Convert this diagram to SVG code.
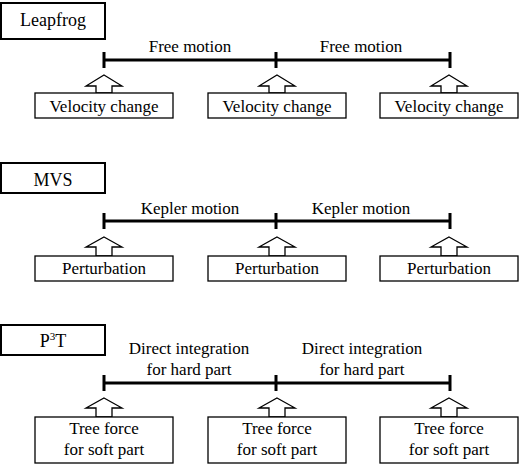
<svg xmlns="http://www.w3.org/2000/svg" width="520" height="469" viewBox="0 0 520 469">
<style>
text{fill:#000;text-anchor:middle}
.lbl{font-size:17px}
.hdr{font-size:18px}
.hbox{fill:#fff;stroke:#000;stroke-width:2}
.box{fill:#fff;stroke:#000;stroke-width:1.3}
.line{stroke:#000;stroke-width:3;fill:none}
.arr{fill:#fff;stroke:#000;stroke-width:1.3;stroke-linejoin:miter}
</style>
<rect width="520" height="469" fill="#fff"/>
<g font-family="Liberation Serif, DejaVu Serif, serif">
<g id="connectors">
<path class="line" d="M104 60H450M104 52V68M276 52V68M450 52V68"/>
<path class="line" d="M104 221H450M104 213V229M276 213V229M450 213V229"/>
<path class="line" d="M104 383H450M104 375V391M276 375V391M450 375V391"/>
<path class="arr" d="M104 75L122 86H112V93H96V86H86Z"/>
<path class="arr" d="M277 75L295 86H285V93H269V86H259Z"/>
<path class="arr" d="M449 75L467 86H457V93H441V86H431Z"/>
<path class="arr" d="M104 237L122 247H112V256H96V247H86Z"/>
<path class="arr" d="M277 237L295 247H285V256H269V247H259Z"/>
<path class="arr" d="M449 237L467 247H457V256H441V247H431Z"/>
<path class="arr" d="M104 398L122 408H112V417H96V408H86Z"/>
<path class="arr" d="M277 398L295 408H285V417H269V408H259Z"/>
<path class="arr" d="M449 398L467 408H457V417H441V408H431Z"/>
<text class="lbl" x="190" y="52">Free motion</text>
<text class="lbl" x="361" y="52">Free motion</text>
<text class="lbl" x="190" y="214">Kepler motion</text>
<text class="lbl" x="361" y="214">Kepler motion</text>
<text class="lbl" x="189" y="354">Direct integration</text>
<text class="lbl" x="189" y="375">for hard part</text>
<text class="lbl" x="362" y="354">Direct integration</text>
<text class="lbl" x="362" y="375">for hard part</text>
</g>
<g id="leapfrog"><rect class="hbox" x="1" y="3" width="104" height="36"/><text class="hdr" x="53" y="26">Leapfrog</text></g>
<g id="mvs"><rect class="hbox" x="1" y="163" width="104" height="30"/><text class="hdr" x="53" y="186">MVS</text></g>
<g id="p3t"><rect class="hbox" x="1" y="325" width="104" height="30"/><text class="hdr" x="53" y="347">P<tspan font-size="11" dy="-7">3</tspan><tspan dy="7">T</tspan></text></g>
<g id="vc1"><rect class="box" x="35" y="93" width="138" height="25"/><text class="lbl" x="104" y="112">Velocity change</text></g>
<g id="vc2"><rect class="box" x="208" y="93" width="138" height="25"/><text class="lbl" x="277" y="112">Velocity change</text></g>
<g id="vc3"><rect class="box" x="380" y="93" width="138" height="25"/><text class="lbl" x="449" y="112">Velocity change</text></g>
<g id="pt1"><rect class="box" x="35" y="256" width="138" height="25"/><text class="lbl" x="104" y="274">Perturbation</text></g>
<g id="pt2"><rect class="box" x="208" y="256" width="138" height="25"/><text class="lbl" x="277" y="274">Perturbation</text></g>
<g id="pt3"><rect class="box" x="380" y="256" width="138" height="25"/><text class="lbl" x="449" y="274">Perturbation</text></g>
<g id="tf1"><rect class="box" x="35" y="417" width="138" height="46"/><text class="lbl" x="104" y="434">Tree force</text><text class="lbl" x="104" y="455">for soft part</text></g>
<g id="tf2"><rect class="box" x="208" y="417" width="138" height="46"/><text class="lbl" x="277" y="434">Tree force</text><text class="lbl" x="277" y="455">for soft part</text></g>
<g id="tf3"><rect class="box" x="380" y="417" width="138" height="46"/><text class="lbl" x="449" y="434">Tree force</text><text class="lbl" x="449" y="455">for soft part</text></g>
</g>
</svg>
